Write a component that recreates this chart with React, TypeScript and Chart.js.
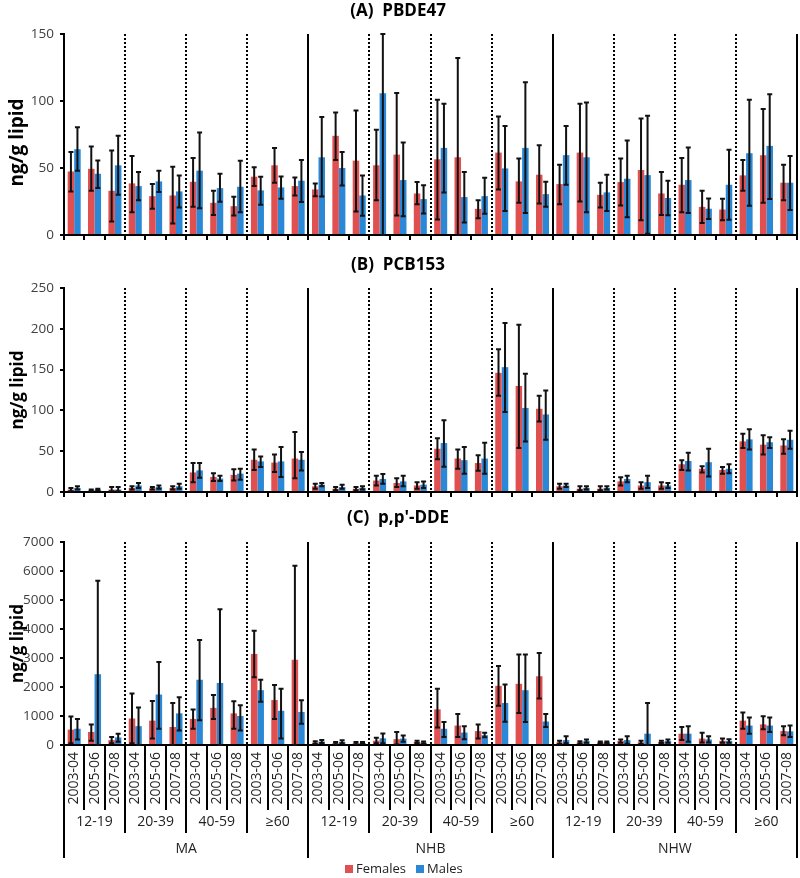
import React, { useEffect, useRef } from 'react';
import { Chart, registerables } from 'chart.js';
Chart.register(...registerables);

const years = ['2003-04', '2005-06', '2007-08'];
const ageGroups = ['12-19', '20-39', '40-59', '≥60'];
const ethnicities = ['MA', 'NHB', 'NHW'];
const categories = ethnicities.flatMap(e => ageGroups.flatMap(a => years.map(y => `${e} ${a} ${y}`)));
const seriesNames = ['Females', 'Males'];

// (A) PBDE47
const pbdeF = [47.4, 49.4, 33, 38.5, 29, 29.5, 39.7, 24, 21.5, 43.5, 52, 36.5, 34, 74, 55.5, 52, 60, 31, 56.5, 58, 19.5, 61.5, 40, 45, 38, 61.5, 30, 39.5, 48.5, 31, 37.5, 21, 19, 44.5, 59.5, 39];
const pbdeFHi = [62, 66, 63, 59, 38, 51, 57.5, 33, 28.5, 50.5, 65, 43, 38.5, 91.5, 93, 78.5, 106, 39.5, 101, 132, 26, 88.5, 57, 67, 52.5, 98, 39, 57, 87, 47, 57.5, 33, 27, 56, 94, 52.5];
const pbdeFLo = [32.5, 33, 10, 17, 19.5, 8.5, 21, 15, 14.5, 36.5, 39, 29.5, 29, 56, 17.5, 26, 14.5, 23, 11.5, 0, 12.5, 34, 24, 23.5, 23, 25, 20.5, 22, 11, 15, 17, 9, 11, 33, 24, 26];
const pbdeM = [64, 45.7, 52, 36.5, 40, 32.5, 48, 35, 36, 33.3, 35.5, 40.5, 58, 50, 29.5, 105.8, 41, 26.8, 65, 28.3, 29, 49.7, 65, 30.5, 59.6, 58, 31.8, 42, 44.7, 27.6, 41, 19.6, 37.5, 61, 66.5, 39];
const pbdeMHi = [80.5, 55.6, 74, 47, 48, 44.4, 76.5, 45.7, 55.4, 43.5, 43.7, 56, 88, 62, 44.4, 150, 69, 37.2, 98, 47, 42.7, 81.4, 114, 39.7, 81.4, 98.8, 45, 70.5, 89, 40.5, 65.3, 27.3, 63.6, 101, 105, 59];
const pbdeMLo = [48, 35, 30, 26, 32, 20.6, 20, 24.8, 17, 22.6, 27, 24.6, 28.8, 37, 14.4, 0, 14, 16, 31.8, 9.4, 15.9, 18, 16.4, 21, 37.5, 17, 18, 13.2, 1, 14.7, 16.4, 12, 11.4, 21.9, 26.8, 18.6];

// (B) PCB153
const pcbF = [3, 2, 3, 5, 4.5, 5, 24, 18.5, 21, 39.5, 36, 41, 7, 4, 4, 14, 11, 8, 53, 41, 35.5, 146, 130, 102, 7, 4, 4, 13, 8, 8, 34, 28.5, 27, 62, 58, 57];
const pcbFHi = [5, 3, 6, 7, 6, 7, 35.5, 23, 28, 52, 46, 73.5, 10, 6, 6, 20, 17, 12, 66, 52, 45, 175, 205, 118, 10, 7, 7, 18, 12, 12, 39, 31.5, 30.5, 71.5, 69.5, 64.5];
const pcbFLo = [1, 1, 1, 3, 3, 3, 12, 13.5, 14, 27, 24.5, 17, 4, 2, 2, 8, 6, 4, 40, 28.5, 26, 118, 54, 86.5, 4, 2, 2, 8, 4, 4, 27, 24, 22.5, 54, 46, 47];
const pcbM = [5, 3, 3, 8, 6, 7, 26.5, 16.5, 22.5, 37.5, 37.5, 39.5, 9, 6, 5, 16, 13, 9, 60, 39, 41, 153, 103, 95, 8, 5, 5, 16, 12, 8, 38, 36.5, 28.5, 64.5, 61, 64];
const pcbMHi = [7, 4, 6, 11, 8, 10, 35.5, 20, 28.5, 43.5, 55, 49, 11, 9, 7, 22, 20, 13, 88, 55, 60.5, 207, 145, 124.5, 10, 7, 7, 20, 20, 11, 48, 53, 34, 77, 67, 75];
const pcbMLo = [3, 2, 1, 5, 4, 4, 17.5, 13.5, 15, 30.5, 18.5, 26.5, 7, 4, 3, 10, 7, 5, 31, 22.5, 22.5, 98, 62, 64, 6, 3, 3, 12, 5, 5, 26.5, 19, 23, 52, 54, 53];

// (C) p,p'-DDE
const ddeF = [530, 450, 170, 914, 840, 620, 900, 1280, 1090, 3140, 1550, 2940, 80, 60, 60, 150, 200, 110, 1230, 670, 480, 2040, 2110, 2370, 90, 90, 90, 135, 90, 110, 390, 220, 145, 840, 710, 480];
const ddeFHi = [980, 710, 280, 1780, 1520, 1450, 1220, 1720, 1510, 3940, 2070, 6180, 130, 100, 100, 250, 450, 150, 1940, 1070, 710, 2720, 3120, 3170, 150, 130, 120, 190, 150, 150, 620, 420, 220, 1120, 990, 650];
const ddeFLo = [60, 150, 60, 60, 220, 0, 560, 900, 560, 2340, 900, 0, 40, 30, 30, 60, 20, 70, 600, 280, 220, 1350, 1100, 1600, 40, 50, 60, 80, 40, 70, 170, 90, 80, 560, 540, 340];
const ddeM = [560, 2440, 260, 650, 1740, 1090, 2250, 2140, 1000, 1890, 1180, 1140, 120, 110, 70, 230, 220, 80, 560, 430, 340, 1450, 1890, 810, 170, 135, 90, 170, 390, 135, 390, 190, 135, 670, 670, 470];
const ddeMHi = [900, 5660, 390, 1290, 2860, 1650, 3620, 4680, 1370, 2250, 1940, 1540, 170, 160, 100, 400, 330, 120, 790, 650, 420, 2090, 3120, 1070, 300, 190, 120, 300, 1450, 190, 650, 300, 200, 950, 950, 670];
const ddeMLo = [190, 0, 110, 0, 560, 500, 850, 0, 500, 1490, 220, 730, 70, 60, 40, 60, 110, 40, 280, 200, 270, 800, 790, 620, 60, 80, 60, 40, 0, 80, 110, 90, 80, 390, 450, 280];

const RED = '#E05050';
const BLUE = '#2A88D6';
const FONT = '"Open Sans", "DejaVu Sans", sans-serif';

type Panel = {
  title: string; max: number; step: number;
  f: number[]; fHi: number[]; fLo: number[];
  m: number[]; mHi: number[]; mLo: number[];
  top: number; height: number; padTop: number; xAxisH: number;
  titleY: number; yTitleSize: number; yTitleShift: number; last: boolean;
};

const panels: Panel[] = [
  { title: '(A)  PBDE47', max: 150, step: 50, f: pbdeF, fHi: pbdeFHi, fLo: pbdeFLo, m: pbdeM, mHi: pbdeMHi, mLo: pbdeMLo,
    top: 0, height: 245, padTop: 34, xAxisH: 10, titleY: 11, yTitleSize: 19, yTitleShift: 8, last: false },
  { title: '(B)  PCB153', max: 250, step: 50, f: pcbF, fHi: pcbFHi, fLo: pcbFLo, m: pcbM, mHi: pcbMHi, mLo: pcbMLo,
    top: 245, height: 257, padTop: 43, xAxisH: 10, titleY: 20, yTitleSize: 17, yTitleShift: 0, last: false },
  { title: "(C)  p,p'-DDE", max: 7000, step: 1000, f: ddeF, fHi: ddeFHi, fLo: ddeFLo, m: ddeM, mHi: ddeMHi, mLo: ddeMLo,
    top: 502, height: 376, padTop: 40, xAxisH: 133, titleY: 16, yTitleSize: 17, yTitleShift: 0, last: true },
];

function makePlugin(p: Panel) {
  return {
    id: 'panelDeco',
    beforeDatasetsDraw(chart: any) {
      const { ctx, chartArea } = chart;
      const w = (chartArea.right - chartArea.left) / categories.length;
      ctx.save();
      ctx.strokeStyle = '#000';
      for (let k = 3; k <= categories.length; k += 3) {
        const x = Math.round(chartArea.left + k * w);
        ctx.beginPath();
        if (k % 12 === 0) { ctx.setLineDash([]); ctx.lineWidth = 2; }
        else { ctx.setLineDash([2, 2]); ctx.lineWidth = 2; }
        ctx.moveTo(x, chartArea.top);
        ctx.lineTo(x, chartArea.bottom);
        ctx.stroke();
      }
      ctx.restore();
    },
    afterDatasetsDraw(chart: any) {
      const { ctx } = chart;
      const y = chart.scales.y;
      const errs = [[p.fLo, p.fHi], [p.mLo, p.mHi]];
      ctx.save();
      ctx.strokeStyle = '#111';
      ctx.lineWidth = 2;
      for (let d = 0; d < 2; d++) {
        const meta = chart.getDatasetMeta(d);
        meta.data.forEach((bar: any, i: number) => {
          const x = bar.x;
          const yH = y.getPixelForValue(errs[d][1][i]);
          const yL = y.getPixelForValue(errs[d][0][i]);
          ctx.beginPath();
          ctx.moveTo(x, yH); ctx.lineTo(x, yL);
          ctx.moveTo(x - 2.5, yH); ctx.lineTo(x + 2.5, yH);
          ctx.moveTo(x - 2.5, yL); ctx.lineTo(x + 2.5, yL);
          ctx.stroke();
        });
      }
      ctx.restore();
    },
    afterDraw(chart: any) {
      const { ctx, chartArea } = chart;
      ctx.save();
      ctx.fillStyle = '#000';
      ctx.textAlign = 'center';
      ctx.textBaseline = 'middle';
      ctx.font = `bold 17px ${FONT}`;
      ctx.fillText(p.title, 398, p.titleY);
      // y-axis title
      ctx.save();
      ctx.translate(18, (chartArea.top + chartArea.bottom) / 2 + p.yTitleShift);
      ctx.rotate(-Math.PI / 2);
      ctx.font = `bold ${p.yTitleSize}px ${FONT}`;
      ctx.fillText('ng/g lipid', 0, 0);
      ctx.restore();

      if (p.last) {
        const n = categories.length;
        const left = chartArea.left;
        const w = (chartArea.right - chartArea.left) / n;
        const base = chartArea.bottom;
        // divider lines of the multi-level axis
        ctx.strokeStyle = '#000';
        ctx.lineWidth = 2;
        for (let k = 0; k <= n; k++) {
          const x = Math.round(left + k * w);
          const len = k % 12 === 0 ? 113 : k % 3 === 0 ? 88 : 65;
          ctx.beginPath();
          ctx.moveTo(x, base);
          ctx.lineTo(x, base + len);
          ctx.stroke();
        }
        ctx.fillStyle = '#222';
        // years
        ctx.font = `14px ${FONT}`;
        for (let i = 0; i < n; i++) {
          const cx = chart.scales.x.getPixelForValue(i);
          ctx.save();
          ctx.translate(cx, base + 7);
          ctx.rotate(-Math.PI / 2);
          ctx.textAlign = 'right';
          ctx.textBaseline = 'middle';
          ctx.fillText(years[i % 3], 0, 0);
          ctx.restore();
        }
        // age groups
        ctx.font = `14px ${FONT}`;
        ctx.textAlign = 'center';
        for (let g = 0; g < ethnicities.length * ageGroups.length; g++) {
          ctx.fillText(ageGroups[g % 4], left + (g * 3 + 1.5) * w, base + 77);
        }
        // ethnicities
        ethnicities.forEach((e, j) => {
          ctx.fillText(e, left + (j * 12 + 6) * w, base + 104);
        });
        // legend
        const ly = base + 124;
        ctx.font = `13px ${FONT}`;
        ctx.textAlign = 'left';
        ctx.fillStyle = RED;
        ctx.fillRect(345, ly - 4, 8, 8);
        ctx.fillStyle = '#222';
        ctx.fillText(seriesNames[0], 356, ly);
        ctx.fillStyle = BLUE;
        ctx.fillRect(416, ly - 4, 8, 8);
        ctx.fillStyle = '#222';
        ctx.fillText(seriesNames[1], 427, ly);
      }
      ctx.restore();
    },
  };
}

function makeChart(canvas: HTMLCanvasElement, p: Panel) {
  return new Chart(canvas, {
    type: 'bar',
    data: {
      labels: categories,
      datasets: [
        { label: seriesNames[0], data: p.f, backgroundColor: RED, barPercentage: 1, categoryPercentage: 0.64 },
        { label: seriesNames[1], data: p.m, backgroundColor: BLUE, barPercentage: 1, categoryPercentage: 0.64 },
      ],
    },
    options: {
      responsive: false,
      animation: false,
      devicePixelRatio: 1,
      layout: { padding: { top: p.padTop, right: 3, left: 0, bottom: 0 } },
      plugins: { legend: { display: false }, tooltip: { enabled: false }, title: { display: false } },
      scales: {
        x: {
          offset: true,
          grid: { display: !p.last, offset: true, drawOnChartArea: false, drawTicks: true, tickLength: 5, color: '#000', lineWidth: 2 },
          border: { display: true, color: '#000', width: 2 },
          ticks: { display: false },
          afterFit: (s: any) => { s.height = p.xAxisH; s.paddingLeft = 0; s.paddingRight = 0; },
        } as any,
        y: {
          min: 0, max: p.max,
          ticks: { stepSize: p.step, color: '#404040', font: { family: FONT, size: 13.5 }, padding: 6, callback: (v: any) => String(v) },
          grid: { drawOnChartArea: false, drawTicks: true, tickLength: 4, color: '#000', lineWidth: 2 },
          border: { display: true, color: '#000', width: 2 },
          afterFit: (s: any) => { s.width = 64; s.paddingTop = 0; s.paddingBottom = 0; },
        } as any,
      },
    },
    plugins: [makePlugin(p)],
  } as any);
}

export default function App() {
  const refA = useRef<HTMLCanvasElement>(null);
  const refB = useRef<HTMLCanvasElement>(null);
  const refC = useRef<HTMLCanvasElement>(null);
  useEffect(() => {
    const refs = [refA, refB, refC];
    const charts = panels.map((p, i) => makeChart(refs[i].current as HTMLCanvasElement, p));
    return () => charts.forEach(c => c.destroy());
  }, []);
  const refs = [refA, refB, refC];
  return (
    <div style={{ position: 'absolute', left: 0, top: 0, width: 800, height: 878, background: '#fff' }}>
      {panels.map((p, i) => (
        <canvas key={i} ref={refs[i]} width={800} height={p.height}
          style={{ position: 'absolute', left: 0, top: p.top, width: 800, height: p.height }} />
      ))}
    </div>
  );
}
